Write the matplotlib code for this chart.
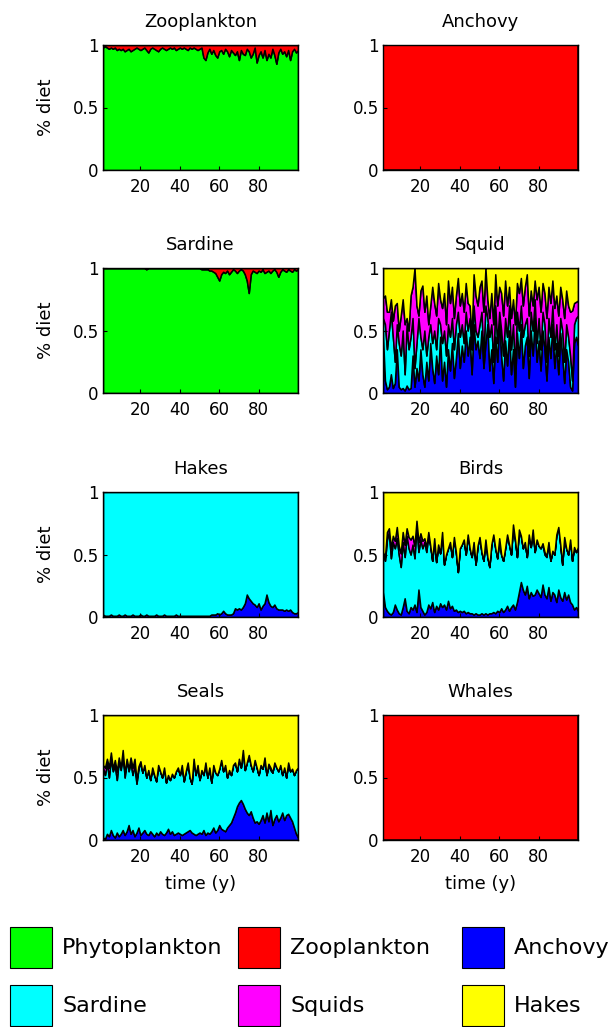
import numpy as np
import matplotlib
matplotlib.use('Agg')
import matplotlib.pyplot as plt
from matplotlib.patches import Rectangle

plt.rcParams['font.family'] = ['DejaVu Sans']

# prey groups, bottom to top of each stack
prey = ['Phytoplankton', 'Zooplankton', 'Anchovy', 'Sardine', 'Squids', 'Hakes']
prey_colors = ['#00ff00', '#ff0000', '#0000ff', '#00ffff', '#ff00ff', '#ffff00']
predators = ['Zooplankton', 'Anchovy', 'Sardine', 'Squid',
             'Hakes', 'Birds', 'Seals', 'Whales']

years = np.arange(1, 101)

# Zooplankton diet: share of phytoplankton (rest is zooplankton)
zoo_phyto = [0.98, 0.99, 0.98, 0.97, 0.98, 0.97, 0.98, 0.96, 0.97, 0.96,
             0.97, 0.95, 0.96, 0.97, 0.95, 0.96, 0.97, 0.98, 0.97, 0.96,
             0.97, 0.98, 0.96, 0.94, 0.97, 0.98, 0.97, 0.96, 0.95, 0.97,
             0.98, 0.97, 0.96, 0.97, 0.98, 0.97, 0.98, 0.96, 0.97, 0.98,
             0.97, 0.98, 0.97, 0.96, 0.98, 0.97, 0.98, 0.97, 0.96, 0.97,
             0.98, 0.90, 0.88, 0.94, 0.97, 0.93, 0.96, 0.92, 0.90, 0.95,
             0.96, 0.93, 0.97, 0.95, 0.91, 0.96, 0.94, 0.92, 0.95, 0.88,
             0.96, 0.93, 0.92, 0.97, 0.95, 0.90, 0.93, 0.98, 0.86, 0.92,
             0.95, 0.90, 0.96, 0.88, 0.93, 0.90, 0.97, 0.92, 0.85, 0.94,
             0.97, 0.93, 0.95, 0.91, 0.96, 0.88, 0.95, 0.97, 0.94, 0.96]

# Sardine diet: share of phytoplankton (rest is zooplankton)
sar_phyto = [1.00, 1.00, 1.00, 1.00, 1.00, 1.00, 1.00, 1.00, 1.00, 1.00,
             1.00, 1.00, 1.00, 1.00, 1.00, 1.00, 1.00, 1.00, 1.00, 1.00,
             1.00, 1.00, 0.99, 1.00, 1.00, 1.00, 1.00, 1.00, 1.00, 1.00,
             1.00, 1.00, 1.00, 1.00, 1.00, 1.00, 1.00, 1.00, 1.00, 1.00,
             1.00, 1.00, 1.00, 1.00, 1.00, 1.00, 1.00, 1.00, 1.00, 1.00,
             0.99, 0.99, 0.99, 0.99, 0.98, 0.98, 0.97, 0.96, 0.93, 0.90,
             0.95, 0.97, 0.96, 0.98, 0.95, 0.97, 0.99, 0.98, 0.96, 0.98,
             0.99, 0.98, 0.95, 0.90, 0.80, 0.95, 0.98, 0.97, 0.96, 0.98,
             0.97, 0.99, 0.96, 0.97, 0.98, 0.96, 0.98, 0.99, 0.97, 0.93,
             0.97, 0.99, 0.98, 0.97, 0.99, 0.98, 0.97, 0.99, 0.98, 0.99]

# Squid diet
squ_anchovy = [.45, .10, .03, .05, .15, .04, .08, .35, .05, .03,
               .04, .02, .06, .03, .04, .30, .05, .20, .10, .35,
               .15, .05, .25, .10, .40, .20, .08, .30, .15, .45,
               .10, .25, .05, .35, .18, .40, .12, .28, .48, .20,
               .38, .25, .50, .30, .45, .15, .55, .35, .42, .28,
               .50, .20, .40, .55, .18, .35, .08, .45, .25, .60,
               .30, .10, .42, .22, .50, .15, .35, .05, .48, .28,
               .55, .20, .38, .45, .12, .50, .30, .60, .25, .42,
               .18, .50, .35, .10, .45, .28, .55, .20, .40, .15,
               .48, .30, .08, .35, .25, .05, .02, .40, .45, .38]
squ_sardine = [.15, .45, .32, .45, .50, .41, .17, .20, .35, .27,
               .46, .13, .49, .32, .41, .30, .15, .20, .50, .10,
               .20, .45, .05, .35, .15, .20, .42, .05, .45, .10,
               .30, .25, .25, .20, .27, .20, .23, .27, .17, .25,
               .17, .15, .15, .20, .15, .20, .15, .15, .03, .27,
               .15, .10, .30, .05, .27, .20, .17, .25, .15, .05,
               .20, .20, .18, .23, .20, .20, .20, .15, .17, .22,
               .15, .25, .17, .15, .18, .15, .20, .15, .15, .18,
               .17, .15, .20, .15, .15, .17, .15, .15, .15, .15,
               .12, .20, .17, .20, .20, .25, .08, .15, .15, .24]
squ_squids = [.16, .23, .30, .15, .10, .13, .45, .17, .10, .32,
              .25, .40, .05, .15, .33, .25, .80, .30, .02, .37,
              .51, .15, .48, .10, .15, .45, .22, .27, .28, .20,
              .28, .30, .25, .35, .27, .25, .25, .23, .27, .25,
              .25, .25, .23, .22, .10, .10, .25, .28, .25, .30,
              .25, .35, .30, .15, .15, .25, .30, .25, .30, .20,
              .30, .32, .30, .25, .15, .25, .20, .35, .23, .30,
              .22, .25, .30, .35, .32, .17, .20, .15, .35, .25,
              .30, .23, .25, .35, .25, .27, .20, .33, .23, .32,
              .25, .25, .35, .27, .25, .35, .56, .17, .13, .12]

# Hakes diet: share of anchovy (rest is sardine)
hak_anchovy = [.02, .01, .01, .01, .02, .01, .01, .01, .02, .01,
               .01, .02, .01, .01, .01, .02, .01, .01, .01, .02,
               .01, .01, .02, .01, .01, .01, .01, .02, .01, .01,
               .01, .02, .01, .01, .01, .01, .01, .02, .01, .01,
               .01, .01, .01, .01, .01, .01, .01, .01, .01, .01,
               .01, .01, .01, .01, .01, .02, .02, .02, .03, .02,
               .03, .05, .03, .02, .02, .02, .03, .07, .06, .07,
               .06, .08, .11, .18, .15, .13, .11, .10, .08, .11,
               .06, .09, .11, .18, .12, .09, .08, .10, .07, .06,
               .06, .06, .05, .06, .05, .06, .04, .03, .03, .04]

# Birds diet
bir_anchovy = [.20, .08, .05, .03, .02, .04, .10, .06, .03, .02,
               .08, .15, .05, .03, .08, .06, .10, .04, .22, .08,
               .05, .02, .04, .10, .07, .12, .04, .09, .06, .11,
               .08, .10, .06, .13, .07, .09, .05, .06, .04, .05,
               .04, .05, .03, .04, .03, .03, .02, .03, .02, .02,
               .03, .02, .03, .02, .03, .03, .04, .03, .05, .04,
               .07, .04, .06, .09, .05, .08, .10, .06, .12, .20,
               .28, .22, .18, .25, .15, .20, .17, .18, .22, .19,
               .16, .26, .18, .15, .24, .13, .20, .18, .12, .22,
               .16, .13, .20, .14, .18, .12, .10, .06, .08, .05]
bir_sardine = [.32, .37, .57, .65, .45, .56, .45, .57, .47, .38,
               .52, .33, .60, .52, .42, .52, .37, .70, .30, .54,
               .50, .58, .48, .56, .50, .33, .58, .35, .52, .40,
               .60, .32, .44, .42, .53, .39, .59, .46, .32, .50,
               .54, .57, .47, .62, .52, .45, .58, .39, .55, .62,
               .49, .43, .59, .46, .37, .55, .62, .52, .42, .59,
               .43, .41, .49, .57, .53, .42, .64, .56, .36, .50,
               .37, .33, .42, .23, .51, .36, .53, .34, .40, .38,
               .39, .32, .32, .33, .36, .32, .33, .32, .54, .50,
               .42, .29, .44, .41, .32, .50, .35, .50, .44, .51]
bir_squids = [.00, .03, .06, .03, .08, .05, .06, .09, .07, .11,
              .08, .10, .06, .09, .12, .07, .10, .03, .08, .05,
              .06, .03, .04, .02, .00, .00, .01, .00, .00, .00,
              .00, .00, .00, .00, .00, .00, .00, .00, .00, .00,
              .00, .00, .00, .00, .00, .00, .00, .00, .00, .00,
              .00, .00, .00, .00, .00, .00, .00, .00, .00, .00,
              .00, .00, .00, .00, .00, .00, .00, .00, .00, .00,
              .00, .00, .00, .00, .00, .00, .00, .00, .00, .00,
              .00, .01, .02, .01, .00, .00, .00, .00, .00, .00,
              .00, .00, .00, .00, .00, .00, .00, .00, .00, .00]

# Seals diet
sea_anchovy = [.02, .01, .05, .03, .08, .04, .02, .06, .03, .05,
               .08, .04, .07, .12, .05, .08, .03, .06, .10, .04,
               .06, .08, .05, .04, .07, .05, .03, .06, .04, .07,
               .05, .04, .06, .09, .05, .07, .04, .05, .06, .05,
               .04, .05, .06, .07, .08, .06, .05, .04, .05, .06,
               .05, .08, .04, .06, .05, .07, .10, .06, .08, .12,
               .09, .08, .07, .10, .12, .14, .18, .22, .27, .30,
               .32, .29, .25, .22, .20, .23, .18, .14, .15, .13,
               .16, .20, .14, .22, .15, .24, .12, .17, .20, .15,
               .18, .22, .16, .20, .21, .18, .15, .10, .05, .02]
sea_sardine = [.56, .51, .57, .47, .57, .51, .58, .42, .60, .51,
               .62, .46, .57, .43, .57, .44, .57, .39, .47, .58,
               .48, .52, .45, .52, .41, .53, .49, .41, .56, .48,
               .45, .54, .40, .43, .43, .46, .46, .50, .52, .47,
               .56, .42, .49, .55, .42, .39, .60, .48, .55, .42,
               .51, .44, .58, .44, .53, .39, .50, .48, .44, .45,
               .55, .47, .53, .40, .44, .38, .42, .40, .28, .35,
               .26, .43, .31, .40, .48, .37, .37, .50, .43, .39,
               .44, .37, .52, .30, .45, .32, .42, .45, .38, .40,
               .42, .30, .42, .30, .41, .37, .42, .42, .51, .56]
sea_squids = [.02, .06, .03, .08, .05, .02, .04, .07, .03, .02,
              .02, .03, .01, .02, .04, .06, .05, .03, .02, .01,
              .00, .00, .00, .00, .00, .00, .00, .00, .00, .00,
              .00, .00, .00, .00, .00, .00, .00, .00, .00, .00,
              .00, .00, .00, .00, .00, .00, .00, .00, .00, .00,
              .00, .00, .00, .00, .00, .00, .00, .00, .00, .00,
              .00, .00, .00, .00, .00, .00, .00, .00, .00, .00,
              .00, .00, .00, .00, .00, .00, .00, .00, .00, .00,
              .00, .00, .00, .00, .01, .02, .00, .00, .00, .00,
              .00, .00, .00, .00, .00, .00, .00, .00, .00, .00]


def diet(**shares):
    # build the 6 stacked shares, the group given as None takes the remainder
    rows = [np.zeros(len(years)) for p in prey]
    rest = None
    for name, vals in shares.items():
        if vals is None:
            rest = name
        else:
            rows[prey.index(name)] = np.array(vals, dtype=float)
    if rest is not None:
        rows[prey.index(rest)] = 1 - np.sum(rows, axis=0)
    return rows


diets = {
    'Zooplankton': diet(Phytoplankton=zoo_phyto, Zooplankton=None),
    'Anchovy': diet(Zooplankton=None),
    'Sardine': diet(Phytoplankton=sar_phyto, Zooplankton=None),
    'Squid': diet(Anchovy=squ_anchovy, Sardine=squ_sardine,
                  Squids=squ_squids, Hakes=None),
    'Hakes': diet(Anchovy=hak_anchovy, Sardine=None),
    'Birds': diet(Anchovy=bir_anchovy, Sardine=bir_sardine,
                  Squids=bir_squids, Hakes=None),
    'Seals': diet(Anchovy=sea_anchovy, Sardine=sea_sardine,
                  Squids=sea_squids, Hakes=None),
    'Whales': diet(Zooplankton=None),
}

W, H = 612, 1027
fig = plt.figure(figsize=(W / 100, H / 100), dpi=100)

col_left = [103, 383]
row_top = [45, 268, 492, 715]
ax_w, ax_h = 195, 125

for i, pred in enumerate(predators):
    r, c = divmod(i, 2)
    ax = fig.add_axes([col_left[c] / W, 1 - (row_top[r] + ax_h) / H,
                       ax_w / W, ax_h / H])
    ax.stackplot(years, diets[pred], colors=prey_colors,
                 edgecolor='k', linewidth=1.1)
    ax.set_xlim(1, 100)
    ax.set_ylim(0, 1)
    ax.set_xticks([20, 40, 60, 80])
    ax.set_yticks([0, 0.5, 1])
    ax.set_yticklabels(['0', '0.5', '1'])
    ax.tick_params(direction='in', labelsize=12, length=3)
    ax.tick_params(axis='x', pad=6)
    ax.tick_params(axis='y', pad=3)
    for s in ax.spines.values():
        s.set_linewidth(1.0)
    ax.set_title(pred, fontsize=13, pad=13)
    if c == 0:
        ax.set_ylabel('% diet', fontsize=13, labelpad=13)
    if r == 3:
        ax.set_xlabel('time (y)', fontsize=13, labelpad=6)

# legend boxes at the bottom
lg = fig.add_axes([0, 0, 1, 130 / H])
lg.set_xlim(0, W)
lg.set_ylim(1027, 897)
lg.axis('off')
box_x = [10, 238, 462]
box_y = [927, 985]
for k, (name, col) in enumerate(zip(prey, prey_colors)):
    r, c = divmod(k, 3)
    lg.add_patch(Rectangle((box_x[c], box_y[r]), 42, 41, facecolor=col,
                           edgecolor='k', linewidth=0.8))
    lg.text(box_x[c] + 52, box_y[r] + 21, name, fontsize=16,
            va='center', ha='left')

fig.savefig('out.png', dpi=100)
